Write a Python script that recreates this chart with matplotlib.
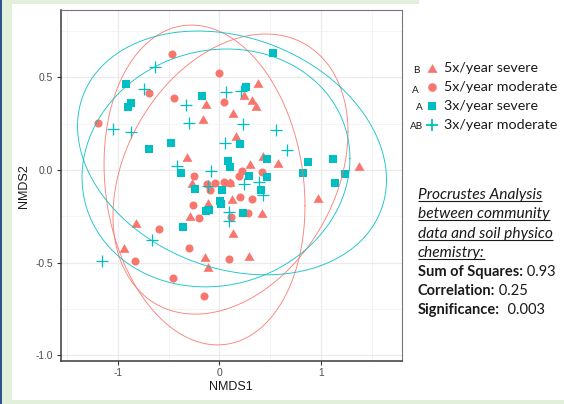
import numpy as np
import matplotlib
matplotlib.use("Agg")
import matplotlib.pyplot as plt
from matplotlib.patches import Rectangle
from matplotlib.path import Path

# ------------------------- data -------------------------
sev5_x = [0.381, 0.246, 0.322, 0.362, -0.131, 0.138, -0.164, 0.165, -0.318, 0.431,
          0.578, 0.305, 1.379, -0.274, 0.105, 0.122, -0.111, -0.286, 0.421, 0.972,
          -0.821, 0.132, -0.944, -0.144, -0.116, 0.296]
sev5_y = [0.468, 0.405, 0.378, 0.345, 0.356, 0.309, 0.274, 0.183, 0.072, 0.076,
          0.036, 0.032, 0.022, -0.072, -0.067, -0.158, -0.178, -0.248, -0.230, -0.149,
          -0.286, -0.342, -0.419, -0.468, -0.522, -0.464]

mod5_x = [-0.466, -0.006, -0.690, -0.449, 0.043, -1.198, -0.254, 0.219, 0.194, 0.418,
          0.046, -0.042, 0.105, -0.262, 0.322, 0.204, -0.205, 0.115, 0.283, -0.599,
          -0.296, 0.096, -0.831, -0.456, -0.154, -0.092, -0.121]
mod5_y = [0.626, 0.523, 0.417, 0.387, 0.369, 0.255, -0.032, -0.008, -0.035, -0.013,
          -0.065, -0.070, -0.070, -0.189, -0.159, -0.144, -0.261, -0.252, -0.234, -0.316,
          -0.423, -0.482, -0.491, -0.581, -0.678, -0.108, -0.076]

sev3_x = [0.526, -0.919, -0.870, -0.902, -0.173, 0.263, -0.690, -0.476, 0.207, 0.083,
          0.108, 0.470, 0.871, 1.125, 0.828, 1.240, 1.143, 0.296, 0.467, -0.377,
          -0.244, 0.024, 0.409, 0.017, 0.002, -0.097, 0.231, -0.358, -0.131]
sev3_y = [0.630, 0.462, 0.360, 0.342, 0.401, 0.446, 0.111, 0.147, 0.139, 0.051,
          0.016, 0.058, 0.045, 0.058, -0.016, -0.022, -0.072, -0.031, -0.039, -0.018,
          -0.105, -0.110, -0.108, -0.181, -0.170, -0.216, -0.232, -0.310, -0.221]

mod3_x = [-0.633, -0.739, 0.066, 0.214, -0.328, -0.296, -1.044, -0.870, 0.231, 0.559,
          0.056, 0.667, -0.417, -0.082, -0.114, 0.246, 0.394, 0.428, 0.099, 0.100,
          -0.660, -1.159]
mod3_y = [0.554, 0.437, 0.423, 0.426, 0.351, 0.252, 0.220, 0.203, 0.247, 0.216,
          0.144, 0.108, 0.019, -0.003, -0.084, -0.073, -0.067, -0.135, -0.227, -0.275,
          -0.378, -0.491]

# 95% ellipse parameters per group (centre, half-extent in x / y, correlation)
ell_cx = [0.110, -0.146, 0.125, -0.033]
ell_cy = [-0.022, -0.081, 0.092, 0.011]
ell_sx = [1.158, 0.990, 1.522, 1.320]
ell_sy = [0.756, 0.863, 0.658, 0.642]
ell_rho = [0.30, -0.13, -0.22, 0.08]

legend_labels = ["5x/year severe", "5x/year moderate", "3x/year severe", "3x/year moderate"]
legend_letters = ["B", "A", "A", "AB"]

xticks = [-1, 0, 1]
xtick_labels = ["-1", "0", "1"]
yticks = [-1.0, -0.5, 0.0, 0.5]
ytick_labels = ["-1.0", "-0.5", "0.0", "0.5"]
x_minor = [-1.5, -0.5, 0.5, 1.5]
y_minor = [-0.75, -0.25, 0.25, 0.75]

box_title_lines = ["Procrustes Analysis", "between community", "data and soil physico", "chemistry:"]
stat_names = ["Sum of Squares:", "Correlation:", "Significance:"]
stat_values = [" 0.93", " 0.25", "  0.003"]

# ------------------------- style -------------------------
RED = "#F8766D"
TEAL = "#00BFC4"
GREEN = "#E2EFDA"
BLUE = "#2F528F"
TXT = "#1A1A1A"
AXFONT = "Liberation Sans"
BOXFONT = "Lato"

W, H = 564, 404
fig = plt.figure(figsize=(W / 100, H / 100), dpi=100, facecolor="white")


def fx(px):
    return px / W


def fy(py):
    return 1 - py / H


# background (slide)
bg = fig.add_axes([0, 0, 1, 1], zorder=-10)
bg.set_xlim(0, W)
bg.set_ylim(H, 0)
bg.axis("off")
bg.add_patch(Rectangle((0, 0), W, H, color=GREEN, lw=0))
bg.add_patch(Rectangle((12, 3.5), W - 12, 396.5, color="white", lw=0))
bg.add_patch(Rectangle((419, 0), W - 419, 5, color="white", lw=0))
bg.add_patch(Rectangle((0, 0), 1.6, H, color=BLUE, lw=0))

# main panel
ax = fig.add_axes([fx(60.5), fy(361), fx(402) - fx(60.5), fy(10) - fy(361)])
ax.set_facecolor("white")
ax.set_xlim(-1.565, 1.80)
ax.set_ylim(-1.031, 0.8635)
ax.set_xticks(xticks)
ax.set_xticklabels(xtick_labels)
ax.set_yticks(yticks)
ax.set_yticklabels(ytick_labels)
ax.set_xticks(x_minor, minor=True)
ax.set_yticks(y_minor, minor=True)
ax.grid(which="major", color="#EBEBEB", lw=0.9, zorder=0)
ax.grid(which="minor", color="#F2F2F2", lw=0.6, zorder=0)
ax.set_axisbelow(True)
ax.tick_params(which="minor", length=0)
ax.tick_params(which="major", direction="out", length=2.6, width=0.8, color="#333333",
               labelsize=7.4, labelcolor="#4D4D4D", pad=2.6)
for lab in ax.get_xticklabels() + ax.get_yticklabels():
    lab.set_family(AXFONT)
for s in ["left", "bottom"]:
    ax.spines[s].set_color("#3A3A3A")
    ax.spines[s].set_linewidth(1.1)
for s in ["top", "right"]:
    ax.spines[s].set_color("#777777")
    ax.spines[s].set_linewidth(0.8)

tri = Path([(-1, -0.866), (1, -0.866), (0, 0.866), (-1, -0.866)],
           [Path.MOVETO, Path.LINETO, Path.LINETO, Path.CLOSEPOLY])

ax.plot(sev5_x, sev5_y, ls="none", marker=tri, ms=7.2, color=RED, mew=0, zorder=2)
ax.plot(mod5_x, mod5_y, ls="none", marker="o", ms=5.8, color=RED, mew=0, zorder=2)
ax.plot(sev3_x, sev3_y, ls="none", marker="s", ms=5.8, color=TEAL, mew=0, zorder=2)
ax.plot(mod3_x, mod3_y, ls="none", marker="+", ms=9, color=TEAL, mew=0.9, zorder=2)

t = np.linspace(0, 2 * np.pi, 400)
ell_colors = [RED, RED, TEAL, TEAL]
for cx, cy, sx, sy, rho, col in zip(ell_cx, ell_cy, ell_sx, ell_sy, ell_rho, ell_colors):
    ex = cx + sx * np.cos(t)
    ey = cy + sy * (rho * np.cos(t) + np.sqrt(1 - rho ** 2) * np.sin(t))
    ax.plot(ex, ey, color=col, lw=0.65, alpha=0.9, zorder=3)

# overlay in pixel coordinates for labels / legend / annotation
ov = fig.add_axes([0, 0, 1, 1], zorder=10)
ov.set_xlim(0, W)
ov.set_ylim(H, 0)
ov.axis("off")
ov.patch.set_alpha(0)

ov.text(231, 387, "NMDS1", ha="center", va="center", fontsize=9, family=AXFONT, color=TXT)
ov.text(24, 186, "NMDS2", ha="center", va="center", fontsize=9, family=AXFONT, color=TXT,
        rotation=90)

# legend
leg_y = [68, 87, 106, 125]
leg_base = [72, 91, 110, 129]
leg_markers = [dict(marker=tri, ms=7.2, color=RED, mew=0),
               dict(marker="o", ms=6.2, color=RED, mew=0),
               dict(marker="s", ms=6.2, color=TEAL, mew=0),
               dict(marker="+", ms=8.5, color=TEAL, mew=1.3)]
letter_x = [416.5, 415.5, 419, 416.5]
letter_base = [73, 93, 110, 129]
r = fig.canvas.get_renderer()
leg_texts = []
for lab, yb, ym, mk, let, lx, lb in zip(legend_labels, leg_base, leg_y, leg_markers,
                                        legend_letters, letter_x, letter_base):
    ov.plot([432], [ym], ls="none", **mk)
    leg_texts.append(ov.text(444, yb, lab, ha="left", va="baseline", fontsize=10,
                             family=BOXFONT, color=TXT))
    ov.text(lx, lb, let, ha="center", va="baseline", fontsize=7.2, family=BOXFONT, color=TXT)

w = leg_texts[1].get_window_extent(r).width
sc = 113.0 / w
for tt in leg_texts:
    tt.set_fontsize(10 * sc)

# annotation box
box_base = [199, 218, 238, 257, 276, 295, 314]
tl = []
for line, yb in zip(box_title_lines, box_base[:4]):
    tl.append(ov.text(418, yb, line, ha="left", va="baseline", fontsize=10,
                      family=BOXFONT, style="italic", color=TXT))
w = tl[2].get_window_extent(r).width
sc = 135.0 / w
for tt in tl:
    tt.set_fontsize(10 * sc)
for tt, yb in zip(tl, box_base[:4]):
    bb = tt.get_window_extent(r)
    ov.plot([418, 418 + bb.width], [yb + 2.2, yb + 2.2], color=TXT, lw=0.8,
            solid_capstyle="butt")

# stats lines
names = []
vals = []
for nm, vv, yb in zip(stat_names, stat_values, box_base[4:]):
    names.append(ov.text(418, yb, nm, ha="left", va="baseline", fontsize=10,
                         family=BOXFONT, weight="bold", color=TXT))
    vals.append(ov.text(418, yb, vv, ha="left", va="baseline", fontsize=10,
                        family=BOXFONT, color=TXT))
tot = names[0].get_window_extent(r).width + vals[0].get_window_extent(r).width
sc = 138.0 / tot
for a, b in zip(names, vals):
    a.set_fontsize(10 * sc)
    b.set_fontsize(10 * sc)
for a, b in zip(names, vals):
    wn = a.get_window_extent(r).width
    b.set_x(418 + wn)

fig.savefig("out.png", dpi=100, facecolor="white")
